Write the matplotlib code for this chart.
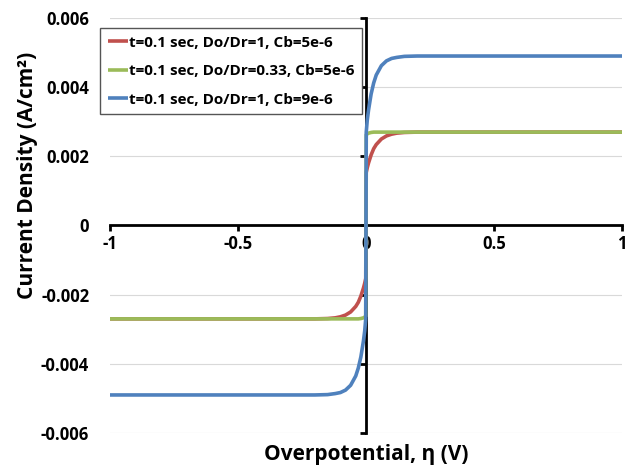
import matplotlib
matplotlib.use("Agg")
import matplotlib.pyplot as plt

plt.rcParams['font.family'] = ['Open Sans', 'DejaVu Sans']
plt.rcParams['font.weight'] = 'bold'

# overpotential (V), values
eta = [-1, -0.5, -0.3, -0.2, -0.15, -0.12, -0.1, -0.08, -0.06, -0.04, -0.03, -0.02, -0.01, -0.005, -0.001,
       0, 0.001, 0.005, 0.01, 0.02, 0.03, 0.04, 0.06, 0.08, 0.1, 0.12, 0.15, 0.2, 0.3, 0.5, 1]

red_pos = [0.00153, 0.00167, 0.00181, 0.00204, 0.00222, 0.00234, 0.0025, 0.00259, 0.00264, 0.00267, 0.00269, 0.0027, 0.0027, 0.0027, 0.0027]
green_pos = [0.00262, 0.00265, 0.00267, 0.00269, 0.0027, 0.0027, 0.0027, 0.0027, 0.0027, 0.0027, 0.0027, 0.0027, 0.0027, 0.0027, 0.0027]
blue_pos = [0.0027, 0.00305, 0.00334, 0.0038, 0.00412, 0.00435, 0.00462, 0.00476, 0.00483, 0.00486, 0.00489, 0.0049, 0.0049, 0.0049, 0.0049]

red = [-v for v in red_pos[::-1]] + [0] + red_pos
green = [-v for v in green_pos[::-1]] + [0] + green_pos
blue = [-v for v in blue_pos[::-1]] + [0] + blue_pos

labels = ['t=0.1 sec, Do/Dr=1, Cb=5e-6',
          't=0.1 sec, Do/Dr=0.33, Cb=5e-6',
          't=0.1 sec, Do/Dr=1, Cb=9e-6']
colors = ['#C0504D', '#9BBB59', '#4F81BD']

xticks = [-1, -0.5, 0, 0.5, 1]
xtick_labels = ['-1', '-0.5', '0', '0.5', '1']
yticks = [-0.006, -0.004, -0.002, 0, 0.002, 0.004, 0.006]
ytick_labels = ['-0.006', '-0.004', '-0.002', '0', '0.002', '0.004', '0.006']

fig = plt.figure(figsize=(6.26, 4.67), dpi=100)
ax = fig.add_axes([0.1757, 0.0728, 0.8179, 0.8887])

for y, c, lab in zip([red, green, blue], colors, labels):
    ax.plot(eta, y, color=c, lw=2.6, label=lab, zorder=3, solid_capstyle='butt')

ax.set_xlim(-1, 1)
ax.set_ylim(-0.006, 0.006)

# horizontal gridlines
for yv in yticks:
    ax.axhline(yv, color='#D9D9D9', lw=0.8, zorder=0)

ax.spines['top'].set_visible(False)
ax.spines['right'].set_visible(False)
ax.spines['left'].set_visible(False)
ax.spines['bottom'].set_position(('data', 0))
ax.spines['bottom'].set_linewidth(2)

ax.set_xticks(xticks)
ax.set_xticklabels(xtick_labels)
ax.set_yticks(yticks)
ax.set_yticklabels(ytick_labels)
ax.tick_params(axis='x', direction='out', length=4, width=2, pad=3, labelsize=12)
ax.tick_params(axis='y', length=0, pad=15, labelsize=12)

# vertical axis line through eta = 0
sec = ax.secondary_yaxis(0.5)
sec.set_alignment('left')
sec.set_yticks(yticks)
sec.tick_params(direction='out', length=4, width=2, left=True, right=False,
                labelleft=False, labelright=False)
sec.spines['left'].set_linewidth(2)

ax.text(-0.162, 0.62, 'Current Density (A/cm²)', transform=ax.transAxes, rotation=90,
        ha='center', va='center', fontsize=15, fontweight='bold')
ax.text(0.5, -0.053, 'Overpotential, η (V)', transform=ax.transAxes,
        ha='center', va='center', fontsize=15, fontweight='bold')

leg = ax.legend(loc='upper left', bbox_to_anchor=(-0.0195, 0.976), fontsize=11,
                handlelength=1.3, handletextpad=0.1, borderaxespad=0, fancybox=False,
                framealpha=1, edgecolor='#555555', borderpad=0.5, labelspacing=0.95)
leg.get_frame().set_linewidth(1)

fig.savefig('out.png', dpi=100)
